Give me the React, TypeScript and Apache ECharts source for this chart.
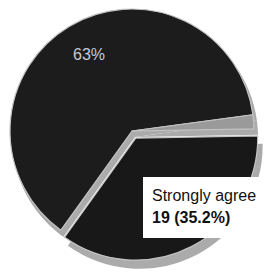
import React, { useEffect, useRef } from "react";
import * as echarts from "echarts";

const categories = ["Strongly agree", "Agree", "Other"];
const counts = [19, 34, 1];
const sliceColors = ["#181818", "#1c1c1c", "#9a9a9a"];
const shadowColors = ["#ababab", "#ababab", "#ababab"];

export default function App() {
  const ref = useRef<HTMLDivElement>(null);
  useEffect(() => {
    if (!ref.current) return;
    const chart = echarts.init(ref.current, null, { renderer: "svg" });
    const total = counts.reduce((a, b) => a + b, 0);
    const mkData = (cols: string[], sel: boolean) =>
      categories.map((name, i) => ({
        name,
        value: counts[i],
        selected: sel && i === 0,
        itemStyle: { color: cols[i] },
      }));
    const font = "Liberation Sans, Arial";
    chart.setOption({
      animation: false,
      backgroundColor: "#ffffff",
      series: [
        {
          type: "pie",
          silent: true,
          center: [135, 137],
          radius: 123,
          startAngle: 1,
          selectedMode: "single",
          selectedOffset: 10,
          label: { show: false },
          labelLine: { show: false },
          emphasis: { disabled: true },
          itemStyle: { borderWidth: 0 },
          data: mkData(shadowColors, true),
        },
        {
          type: "pie",
          silent: true,
          center: [132, 131],
          radius: 122,
          startAngle: 1,
          selectedMode: "single",
          selectedOffset: 8,
          emphasis: { disabled: true },
          itemStyle: { borderColor: "#c4c4c4", borderWidth: 1.2 },
          labelLine: { show: false },
          label: { show: false },
          data: mkData(sliceColors, true),
        },
        {
          type: "pie",
          silent: true,
          center: [132, 131],
          radius: 122,
          startAngle: 1,
          emphasis: { disabled: true },
          itemStyle: { color: "rgba(0,0,0,0)", borderWidth: 0 },
          labelLine: { show: false },
          label: {
            show: true,
            position: "inside",
            overflow: "none",
            formatter: (p: any) => {
              if (p.dataIndex === 0)
                return `{a|${p.name}}\n{b|${p.value} (${((p.value / total) * 100).toFixed(1)}%)}`;
              if (p.dataIndex === 1) return `{c|${Math.round((p.value / total) * 100)}%}`;
              return "";
            },
            rich: {
              a: { fontFamily: font, fontSize: 16, color: "#111", lineHeight: 22 },
              b: { fontFamily: font, fontSize: 16, fontWeight: "bold", color: "#111", lineHeight: 22 },
              c: { fontFamily: font, fontSize: 16, color: "#c4cad6" },
            },
          },
          labelLayout: (params: any) => {
            if (params.dataIndex === 0) {
              return { x: 143, y: 177, align: "left", verticalAlign: "top" };
            }
            return { x: 89, y: 54, align: "center", verticalAlign: "middle" };
          },
          data: categories.map((name, i) => ({
            name,
            value: counts[i],
            itemStyle: { color: "rgba(0,0,0,0)" },
            label:
              i === 0
                ? { backgroundColor: "#ffffff", padding: [7, 30, 10, 9] }
                : {},
          })),
        },
      ],
    });
    return () => chart.dispose();
  }, []);
  return (
    <div
      ref={ref}
      style={{ position: "fixed", left: 0, top: 0, width: 267, height: 276 }}
    />
  );
}
